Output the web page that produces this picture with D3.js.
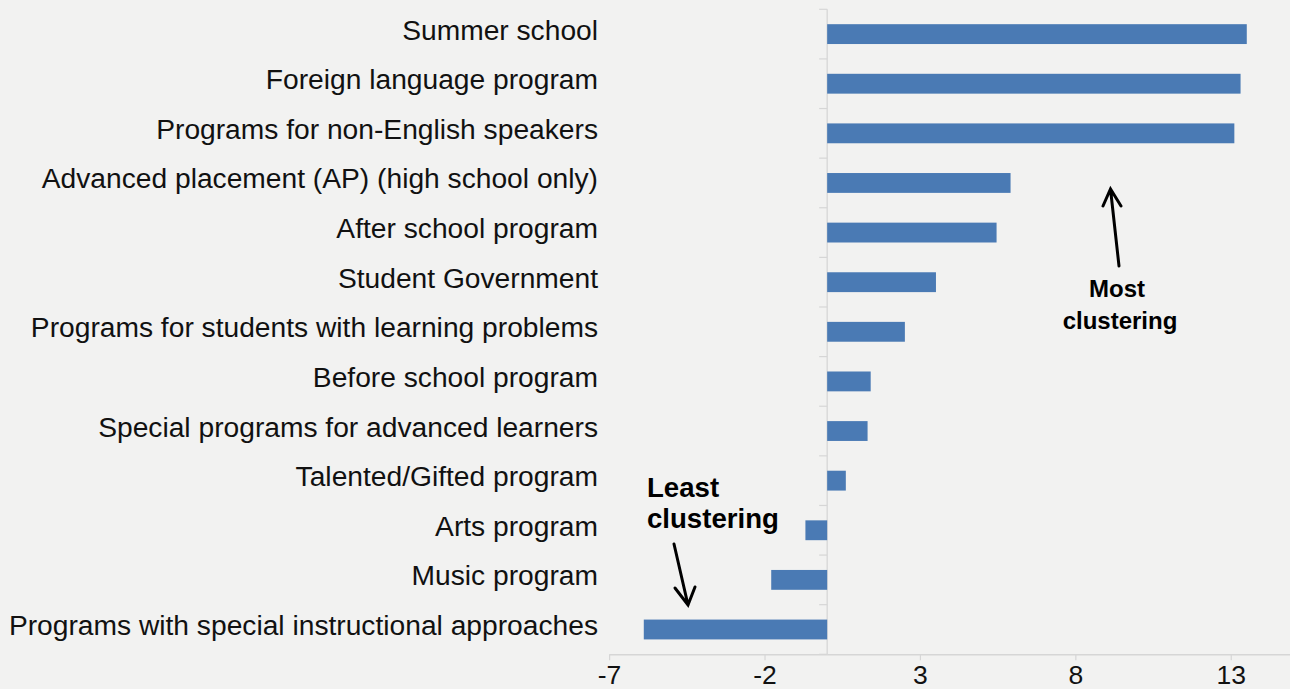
<!DOCTYPE html>
<html>
<head>
<meta charset="utf-8">
<script src="https://cdn.jsdelivr.net/npm/d3@7"></script>
<style>
  body { margin: 0; background: #f2f2f1; }
  svg { display: block; }
  .cat-label { font-family: "Liberation Sans", Arial, sans-serif; font-size: 28.2px; fill: #111; }
  .tick-label { font-family: "Liberation Sans", Arial, sans-serif; font-size: 26.5px; fill: #111; }
  .note { font-family: "Liberation Sans", Arial, sans-serif; font-weight: bold; fill: #000; }
</style>
</head>
<body>
<div class="chart"></div>
<script>
var width = 1290, height = 689;

var categories = [
  "Summer school",
  "Foreign language program",
  "Programs for non-English speakers",
  "Advanced placement (AP) (high school only)",
  "After school program",
  "Student Government",
  "Programs for students with learning problems",
  "Before school program",
  "Special programs for advanced learners",
  "Talented/Gifted program",
  "Arts program",
  "Music program",
  "Programs with special instructional approaches"
];
var values = [13.5, 13.3, 13.1, 5.9, 5.45, 3.5, 2.5, 1.4, 1.3, 0.6, -0.7, -1.8, -5.9];
var xTicks = [-7, -2, 3, 8, 13];

var svg = d3.select(".chart").append("svg")
    .attr("width", width)
    .attr("height", height);

svg.append("rect").attr("width", width).attr("height", height).attr("fill", "#f2f2f1");

var x = d3.scaleLinear()
    .domain([-7, 15])
    .range([609.6, 1293.4]);

var y = d3.scaleBand()
    .domain(categories)
    .range([9.3, 654.3])
    .paddingInner(0.6)
    .paddingOuter(0.3);

var axisY = y.range()[1];
var step = y.step();

// x axis line + ticks
svg.append("line")
    .attr("x1", x(-7)).attr("x2", width)
    .attr("y1", axisY + 0.5).attr("y2", axisY + 0.5)
    .attr("stroke", "#d6d6d6").attr("stroke-width", 1.5);

svg.selectAll(".xtick")
    .data(xTicks)
  .enter().append("line")
    .attr("class", "xtick")
    .attr("x1", function(d){ return x(d); })
    .attr("x2", function(d){ return x(d); })
    .attr("y1", axisY).attr("y2", axisY + 6)
    .attr("stroke", "#d6d6d6").attr("stroke-width", 1.2);

svg.selectAll(".tick-label")
    .data(xTicks)
  .enter().append("text")
    .attr("class", "tick-label")
    .attr("x", function(d){ return x(d); })
    .attr("y", 683.5)
    .style("text-anchor", "middle")
    .text(function(d){ return d; });

// zero line + category ticks
svg.append("line")
    .attr("x1", x(0)).attr("x2", x(0))
    .attr("y1", y.range()[0]).attr("y2", axisY)
    .attr("stroke", "#dadada").attr("stroke-width", 1.5);

svg.selectAll(".ytick")
    .data(d3.range(categories.length + 1))
  .enter().append("line")
    .attr("class", "ytick")
    .attr("x1", x(0) - 8).attr("x2", x(0))
    .attr("y1", function(i){ return y.range()[0] + i * step; })
    .attr("y2", function(i){ return y.range()[0] + i * step; })
    .attr("stroke", "#d6d6d6").attr("stroke-width", 1.2);

// bars
svg.selectAll(".bar")
    .data(values)
  .enter().append("rect")
    .attr("class", "bar")
    .attr("x", function(d){ return x(Math.min(0, d)); })
    .attr("width", function(d){ return Math.abs(x(d) - x(0)); })
    .attr("y", function(d, i){ return y(categories[i]); })
    .attr("height", y.bandwidth())
    .attr("fill", "#4a7ab4");

// category labels
svg.selectAll(".cat-label")
    .data(categories)
  .enter().append("text")
    .attr("class", "cat-label")
    .attr("x", 598)
    .attr("y", function(d){ return y(d) + y.bandwidth() / 2 + 5.5; })
    .style("text-anchor", "end")
    .text(function(d){ return d; });

// annotations
function arrow(x1, y1, x2, y2, w1, w2){
  svg.append("path")
      .attr("d", "M" + x1 + "," + y1 + "L" + x2 + "," + y2 +
                 "M" + w1[0] + "," + w1[1] + "L" + x2 + "," + y2 + "L" + w2[0] + "," + w2[1])
      .attr("fill", "none")
      .attr("stroke", "#000")
      .attr("stroke-width", 3)
      .attr("stroke-linecap", "round")
      .attr("stroke-linejoin", "miter");
}

arrow(1119, 266, 1110.5, 189, [1103, 206], [1121, 206]);
svg.append("text").attr("class", "note").attr("x", 1117).attr("y", 297)
    .style("font-size", "24px").style("text-anchor", "middle").text("Most");
svg.append("text").attr("class", "note").attr("x", 1120).attr("y", 329)
    .style("font-size", "24px").style("text-anchor", "middle").text("clustering");

arrow(674, 544, 688, 605, [675, 588], [695, 587]);
svg.append("text").attr("class", "note").attr("x", 647).attr("y", 497)
    .style("font-size", "27.6px").text("Least");
svg.append("text").attr("class", "note").attr("x", 647).attr("y", 528)
    .style("font-size", "27.6px").text("clustering");
</script>
</body>
</html>
